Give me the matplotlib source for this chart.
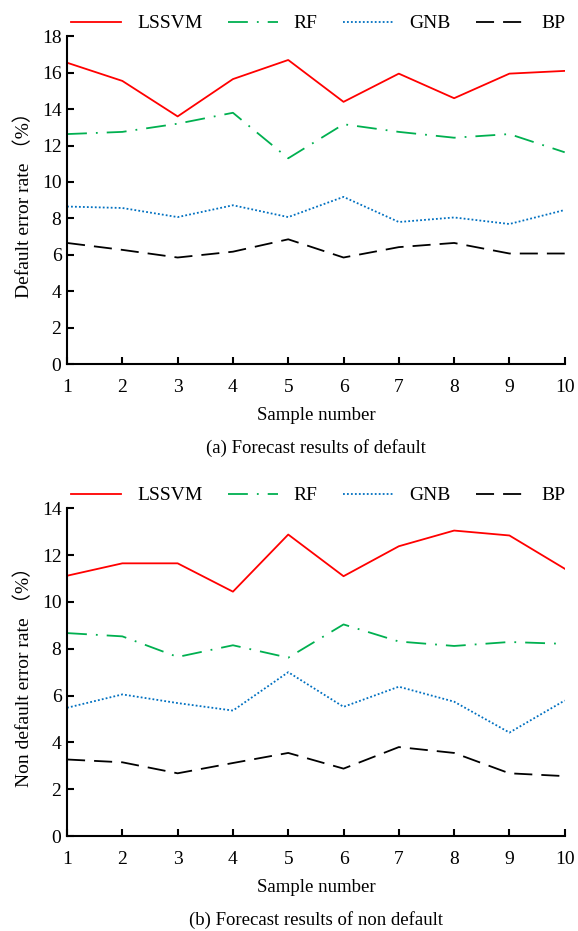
import matplotlib
matplotlib.use("Agg")
import matplotlib.pyplot as plt

## data
samples = [1, 2, 3, 4, 5, 6, 7, 8, 9, 10]
models = ["LSSVM", "RF", "GNB", "BP"]

default_lssvm = [16.55, 15.55, 13.6, 15.65, 16.7, 14.4, 15.95, 14.6, 15.95, 16.1]
default_rf = [12.63, 12.75, 13.2, 13.8, 11.3, 13.17, 12.75, 12.43, 12.63, 11.63]
default_gnb = [8.65, 8.57, 8.07, 8.72, 8.07, 9.18, 7.8, 8.05, 7.69, 8.46]
default_bp = [6.65, 6.27, 5.85, 6.17, 6.85, 5.85, 6.42, 6.65, 6.07, 6.07]

nondefault_lssvm = [11.12, 11.65, 11.65, 10.44, 12.88, 11.1, 12.38, 13.05, 12.84, 11.42]
nondefault_rf = [8.67, 8.53, 7.65, 8.15, 7.62, 9.04, 8.31, 8.12, 8.29, 8.21]
nondefault_gnb = [5.48, 6.05, 5.68, 5.36, 7.0, 5.52, 6.38, 5.74, 4.42, 5.79]
nondefault_bp = [3.27, 3.15, 2.68, 3.12, 3.55, 2.88, 3.8, 3.55, 2.68, 2.56]

plt.rcParams['font.family'] = ['Liberation Serif', 'Noto Sans CJK SC']

styles = [
    dict(color="#ff0000", linestyle="-"),
    dict(color="#00b050", linestyle=(0, (11, 5, 1, 5))),
    dict(color="#0070c0", linestyle=(0, (1, 1.2))),
    dict(color="#000000", linestyle=(0, (10, 5))),
]


def draw(ax, series, ymax, ylabel, xlabel, caption):
    for name, vals, st in zip(models, series, styles):
        ax.plot(samples, vals, label=name, linewidth=1.3, **st)
    ax.set_xlim(1, 10)
    ax.set_ylim(0, ymax)
    ax.set_xticks(samples)
    ax.set_yticks(range(0, ymax + 1, 2))
    ax.spines['top'].set_visible(False)
    ax.spines['right'].set_visible(False)
    ax.spines['left'].set_linewidth(1.5)
    ax.spines['bottom'].set_linewidth(1.5)
    ax.tick_params(direction='in', length=5, width=1.5, labelsize=14)
    ax.tick_params(axis='x', pad=11)
    ax.tick_params(axis='y', pad=4)
    ax.set_ylabel(ylabel, fontsize=14, labelpad=6)
    ax.set_xlabel(xlabel, fontsize=13.5, labelpad=8)
    ax.legend(loc='lower left', bbox_to_anchor=(0.0, 1.0), ncol=4, frameon=False,
              fontsize=14, handlelength=2.6, columnspacing=1.3, handletextpad=0.8,
              borderaxespad=0.2, borderpad=0.0)
    ax.text(0.5, -0.255, caption, transform=ax.transAxes, ha='center', va='center', fontsize=13.5)


fig = plt.figure(figsize=(5.78, 9.31), dpi=100)
ax1 = fig.add_axes([0.116, 0.609, 0.861, 0.352])
ax2 = fig.add_axes([0.116, 0.102, 0.861, 0.352])

draw(ax1, [default_lssvm, default_rf, default_gnb, default_bp], 18,
     "Default error rate （%）", "Sample number", "(a) Forecast results of default")
draw(ax2, [nondefault_lssvm, nondefault_rf, nondefault_gnb, nondefault_bp], 14,
     "Non default error rate （%）", "Sample number", "(b) Forecast results of non default")

plt.savefig("out.png", dpi=100)
